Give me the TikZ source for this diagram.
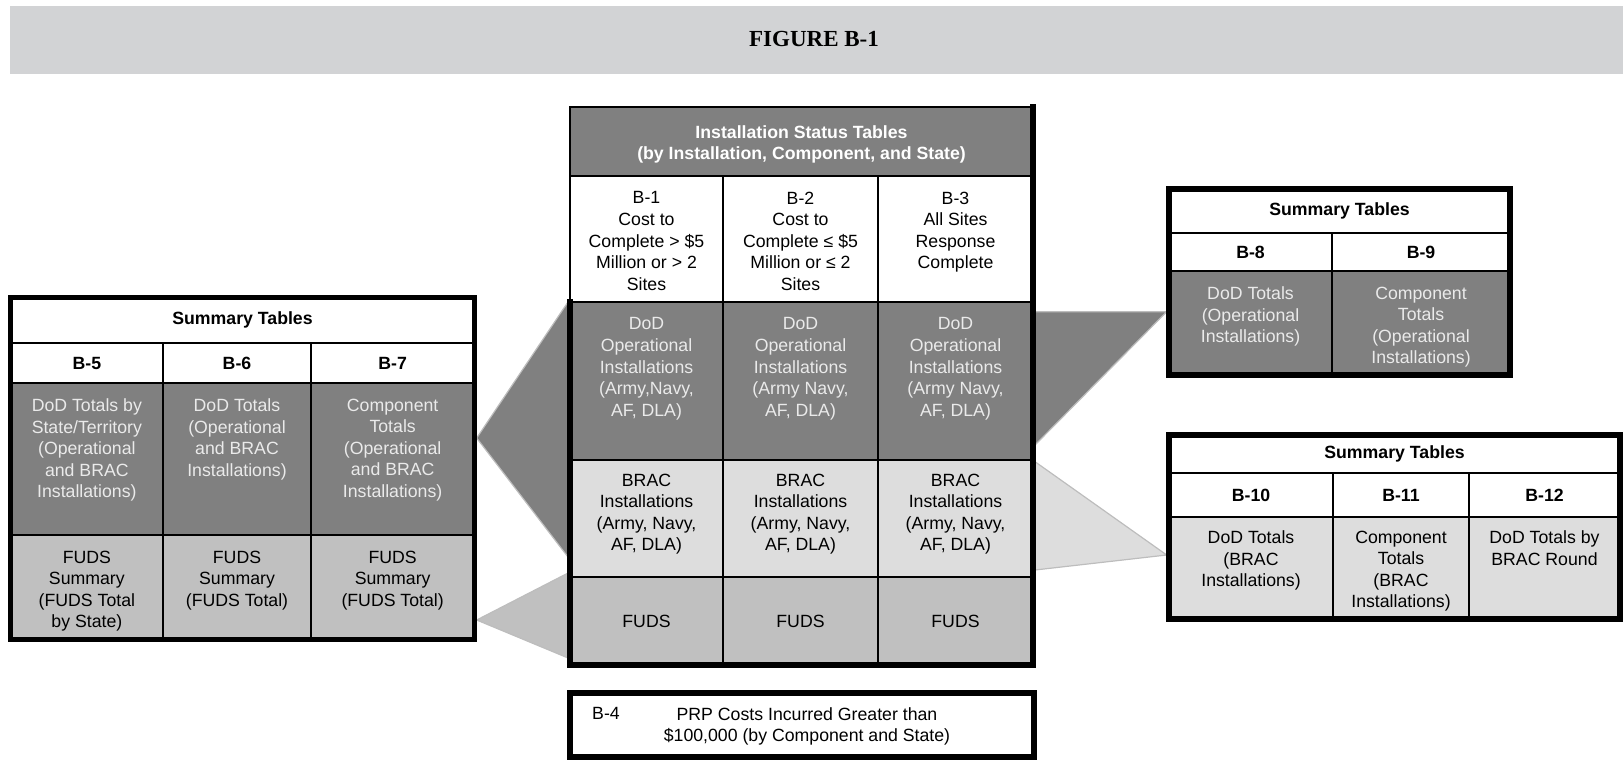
\documentclass[tikz,border=0pt]{standalone}
\usepackage{fontspec}
\setmainfont{Liberation Sans}
\newfontfamily\figserif{Liberation Serif}
\usepackage{tikz}

\definecolor{bandgray}{HTML}{D2D3D5}
\definecolor{opgray}{HTML}{808080}
\definecolor{bracgray}{HTML}{DDDDDD}
\definecolor{fudsgray}{HTML}{C0C0C0}
\definecolor{paletext}{HTML}{EAEAEA}
\definecolor{wedgeline}{HTML}{BDBDBD}

\newcommand\cellfont{\fontsize{17.7}{21.6}\selectfont}

\tikzset{
  cell/.style={draw=black, line width=2pt, inner sep=0pt, outer sep=0pt, anchor=north west, font=\cellfont},
  toptext/.style={anchor=north, inner sep=0pt, align=center, font=\cellfont},
  rim/.style={draw=black, line width=5.5pt},
  wedge/.style={draw=wedgeline, line width=1.2pt, line join=round},
}

\begin{document}
\begin{tikzpicture}[x=1pt,y=-1pt]
\useasboundingbox (0,0) rectangle (1623,761);

% title band
\fill[bandgray] (10.4,6) rectangle (1623,73.5);
\node[font=\figserif\bfseries\fontsize{23}{23}\selectfont] (fig) at (814,39) {FIGURE B-1};

% wedges (behind the tables)
\coordinate (ldw-tip) at (476.7,438);
\coordinate (ldw-top) at (570,299);
\coordinate (ldw-bot) at (570,559.6);
\coordinate (llw-tip) at (476.7,620);
\coordinate (llw-top) at (570,572);
\coordinate (llw-bot) at (570,658.8);
\coordinate (rdw-top) at (1035,311.7);
\coordinate (rdw-tip) at (1166.7,311.7);
\coordinate (rdw-bot) at (1035,445);
\coordinate (rlw-top) at (1035,461.7);
\coordinate (rlw-tip) at (1166.7,555);
\coordinate (rlw-bot) at (1035,570);
\filldraw[wedge, fill=opgray] (ldw-tip) -- (ldw-top) -- (ldw-bot) -- cycle;
\filldraw[wedge, fill=fudsgray] (llw-tip) -- (llw-top) -- (llw-bot) -- cycle;
\filldraw[wedge, fill=opgray] (rdw-top) -- (rdw-tip) -- (rdw-bot) -- cycle;
\filldraw[wedge, fill=bracgray] (rlw-top) -- (rlw-tip) -- (rlw-bot) -- cycle;

% left summary tables B-5 to B-7
\node[cell, fill=white, minimum width=463.6pt, minimum height=45.3pt] (lt-title) at (10.7,297.7) {\bfseries Summary Tables};
\node[cell, fill=white, minimum width=152.3pt, minimum height=40pt] (lt-h1) at (10.7,343) {\bfseries B-5};
\node[cell, fill=white, minimum width=148pt, minimum height=40pt] (lt-h2) at (163,343) {\bfseries B-6};
\node[cell, fill=white, minimum width=163.3pt, minimum height=40pt] (lt-h3) at (311,343) {\bfseries B-7};
\node[cell, fill=opgray, minimum width=152.3pt, minimum height=152pt] (lt-d1) at (10.7,383) {};
\node[cell, fill=opgray, minimum width=148pt, minimum height=152pt] (lt-d2) at (163,383) {};
\node[cell, fill=opgray, minimum width=163.3pt, minimum height=152pt] (lt-d3) at (311,383) {};
\node[cell, fill=fudsgray, minimum width=152.3pt, minimum height=104.3pt] (lt-f1) at (10.7,535) {};
\node[cell, fill=fudsgray, minimum width=148pt, minimum height=104.3pt] (lt-f2) at (163,535) {};
\node[cell, fill=fudsgray, minimum width=163.3pt, minimum height=104.3pt] (lt-f3) at (311,535) {};
\draw[rim] (lt-title.north west) rectangle (lt-f3.south east);
\node[toptext, text=paletext] (lt-d1-txt) at ([yshift=-15.5pt]lt-d1.north) {DoD Totals by\\State/Territory\\(Operational\\and BRAC\\Installations)};
\node[toptext, text=paletext] (lt-d2-txt) at ([yshift=-15.5pt]lt-d2.north) {DoD Totals\\(Operational\\and BRAC\\Installations)};
\node[toptext, text=paletext] (lt-d3-txt) at ([yshift=-15.5pt]lt-d3.north) {Component\\Totals\\(Operational\\and BRAC\\Installations)};
\node[toptext] (lt-f1-txt) at ([yshift=-15.5pt]lt-f1.north) {FUDS\\Summary\\(FUDS Total\\by State)};
\node[toptext] (lt-f2-txt) at ([yshift=-15.5pt]lt-f2.north) {FUDS\\Summary\\(FUDS Total)};
\node[toptext] (lt-f3-txt) at ([yshift=-15.5pt]lt-f3.north) {FUDS\\Summary\\(FUDS Total)};

% installation status tables B-1 to B-3
\node[cell, fill=opgray, minimum width=463pt, minimum height=69pt] (ct-title) at (570,107) {};
\node[toptext, anchor=center, text=white] (ct-title-txt) at ([yshift=-3pt]ct-title.center) {\bfseries Installation Status Tables\\\bfseries(by Installation, Component, and State)};
\node[cell, fill=white, minimum width=153pt, minimum height=126pt] (ct-h1) at (570,176) {};
\node[cell, fill=white, minimum width=155pt, minimum height=126pt] (ct-h2) at (723,176) {};
\node[cell, fill=white, minimum width=155pt, minimum height=126pt] (ct-h3) at (878,176) {};
\node[cell, fill=opgray, minimum width=153pt, minimum height=158pt] (ct-d1) at (570,302) {};
\node[cell, fill=opgray, minimum width=155pt, minimum height=158pt] (ct-d2) at (723,302) {};
\node[cell, fill=opgray, minimum width=155pt, minimum height=158pt] (ct-d3) at (878,302) {};
\node[cell, fill=bracgray, minimum width=153pt, minimum height=117pt] (ct-b1) at (570,460) {};
\node[cell, fill=bracgray, minimum width=155pt, minimum height=117pt] (ct-b2) at (723,460) {};
\node[cell, fill=bracgray, minimum width=155pt, minimum height=117pt] (ct-b3) at (878,460) {};
\node[cell, fill=fudsgray, minimum width=153pt, minimum height=88pt] (ct-f1) at (570,577) {FUDS};
\node[cell, fill=fudsgray, minimum width=155pt, minimum height=88pt] (ct-f2) at (723,577) {FUDS};
\node[cell, fill=fudsgray, minimum width=155pt, minimum height=88pt] (ct-f3) at (878,577) {FUDS};
\draw[rim, line cap=rect] (ct-title.north east) -- (ct-f3.south east) -- (ct-f1.south west) -- (ct-d1.north west);
\node[toptext] (ct-h1-txt) at ([yshift=-15.5pt]ct-h1.north) {B-1\\Cost to\\Complete > \$5\\Million or > 2\\Sites};
\node[toptext] (ct-h2-txt) at ([yshift=-15.5pt]ct-h2.north) {B-2\\Cost to\\Complete ≤ \$5\\Million or ≤ 2\\Sites};
\node[toptext] (ct-h3-txt) at ([yshift=-15.5pt]ct-h3.north) {B-3\\All Sites\\Response\\Complete};
\node[toptext, text=paletext] (ct-d1-txt) at ([yshift=-15.5pt]ct-d1.north) {DoD\\Operational\\Installations\\(Army,Navy,\\AF, DLA)};
\node[toptext, text=paletext] (ct-d2-txt) at ([yshift=-15.5pt]ct-d2.north) {DoD\\Operational\\Installations\\(Army Navy,\\AF, DLA)};
\node[toptext, text=paletext] (ct-d3-txt) at ([yshift=-15.5pt]ct-d3.north) {DoD\\Operational\\Installations\\(Army Navy,\\AF, DLA)};
\node[toptext] (ct-b1-txt) at ([yshift=-13.5pt]ct-b1.north) {BRAC\\Installations\\(Army, Navy,\\AF, DLA)};
\node[toptext] (ct-b2-txt) at ([yshift=-13.5pt]ct-b2.north) {BRAC\\Installations\\(Army, Navy,\\AF, DLA)};
\node[toptext] (ct-b3-txt) at ([yshift=-13.5pt]ct-b3.north) {BRAC\\Installations\\(Army, Navy,\\AF, DLA)};

% B-4
\node[cell, fill=white, line width=6pt, minimum width=464pt, minimum height=64pt] (b4) at (570,693) {};
\node[toptext] (b4-num) at ([xshift=36pt,yshift=-14pt]b4.north west) {B-4};
\node[toptext] (b4-txt) at ([xshift=5pt,yshift=-14pt]b4.north) {PRP Costs Incurred Greater than\\\$100,000 (by Component and State)};

% right summary tables B-8, B-9
\node[cell, fill=white, minimum width=341pt, minimum height=44pt] (rt1-title) at (1169,189) {\bfseries Summary Tables};
\node[cell, fill=white, minimum width=163pt, minimum height=38pt] (rt1-h1) at (1169,233) {\bfseries B-8};
\node[cell, fill=white, minimum width=178pt, minimum height=38pt] (rt1-h2) at (1332,233) {\bfseries B-9};
\node[cell, fill=opgray, minimum width=163pt, minimum height=104pt] (rt1-d1) at (1169,271) {};
\node[cell, fill=opgray, minimum width=178pt, minimum height=104pt] (rt1-d2) at (1332,271) {};
\draw[rim] (rt1-title.north west) rectangle (rt1-d2.south east);
\node[toptext, text=paletext] (rt1-d1-txt) at ([yshift=-15.5pt]rt1-d1.north) {DoD Totals\\(Operational\\Installations)};
\node[toptext, text=paletext] (rt1-d2-txt) at ([yshift=-15.5pt]rt1-d2.north) {Component\\Totals\\(Operational\\Installations)};

% right summary tables B-10 to B-12
\node[cell, fill=white, minimum width=451pt, minimum height=38pt] (rt2-title) at (1169,435) {\bfseries Summary Tables};
\node[cell, fill=white, minimum width=164pt, minimum height=44pt] (rt2-h1) at (1169,473) {\bfseries B-10};
\node[cell, fill=white, minimum width=136pt, minimum height=44pt] (rt2-h2) at (1333,473) {\bfseries B-11};
\node[cell, fill=white, minimum width=151pt, minimum height=44pt] (rt2-h3) at (1469,473) {\bfseries B-12};
\node[cell, fill=bracgray, minimum width=164pt, minimum height=102pt] (rt2-b1) at (1169,517) {};
\node[cell, fill=bracgray, minimum width=136pt, minimum height=102pt] (rt2-b2) at (1333,517) {};
\node[cell, fill=bracgray, minimum width=151pt, minimum height=102pt] (rt2-b3) at (1469,517) {};
\draw[rim] (rt2-title.north west) rectangle (rt2-b3.south east);
\node[toptext] (rt2-b1-txt) at ([yshift=-13.5pt]rt2-b1.north) {DoD Totals\\(BRAC\\Installations)};
\node[toptext] (rt2-b2-txt) at ([yshift=-13.5pt]rt2-b2.north) {Component\\Totals\\(BRAC\\Installations)};
\node[toptext] (rt2-b3-txt) at ([yshift=-13.5pt]rt2-b3.north) {DoD Totals by\\BRAC Round};
\end{tikzpicture}
\end{document}
